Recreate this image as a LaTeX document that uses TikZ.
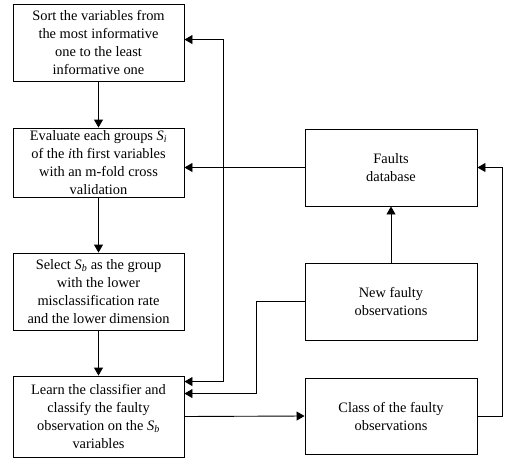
\documentclass[tikz,border=0pt]{standalone}
\usepackage{fontspec}
\setmainfont{Liberation Serif}
\usetikzlibrary{arrows.meta,calc}
\newcommand{\Sv}[1]{\textit{S}\textsubscript{\textit{#1}}}
\begin{document}
\begin{tikzpicture}[x=1pt,y=-1pt,
  box/.style={draw, line width=0.9pt, rectangle, align=center, inner sep=2pt,
    font=\fontsize{14.4}{18}\selectfont},
  lbox/.style={box, minimum width=171pt},
  rbox/.style={box, minimum width=172pt},
  arr/.style={line width=0.9pt, -{Triangle[length=8pt,width=9pt]}},
  darr/.style={line width=0.9pt, {Triangle[length=8pt,width=9pt]}-{Triangle[length=8pt,width=9pt]}}]
\useasboundingbox (0,0) rectangle (508,460);
\node[lbox, minimum height=77pt] (b1) at (98.5,42.5) {Sort the variables from\\the most informative\\one to the least\\informative one};
\node[lbox, minimum height=69pt] (b2) at (98.5,162.5) {Evaluate each groups \Sv{i}\\of the \textit{i}th first variables\\with an m-fold cross\\validation};
\node[lbox, minimum height=77pt] (b3) at (98.5,291.5) {Select \Sv{b} as the group\\with the lower\\misclassification rate\\and the lower dimension};
\node[lbox, minimum height=81pt] (b4) at (98.5,416.5) {Learn the classifier and\\classify the faulty\\observation on the \Sv{b}\\variables};
\node[rbox, minimum height=77pt] (fd) at (391,167.5) {Faults\\database};
\node[rbox, minimum height=77pt] (nf) at (391,301.5) {New faulty\\observations};
\node[rbox, minimum height=76pt] (cl) at (391,416) {Class of the faulty\\observations};
\coordinate (t1) at ($(b1.north east)+(0,36)$);
\coordinate (t4) at ($(b4.north east)+(0,6)$);
\coordinate (t4b) at ($(b4.north east)+(0,18)$);
\coordinate (fbx) at (223,0);
\coordinate (nfx) at (256,0);
\coordinate (clx) at (502,0);
\draw[arr] (b1) -- (b2);
\draw[arr] (b2) -- (b3);
\draw[arr] (b3) -- (b4);
\draw[arr] (fd.west) -- (fd.west -| b2.east);
\draw[darr] (t1) -- (t1 -| fbx) -- (t4 -| fbx) -- (t4);
\draw[arr] (nf.west) -- (nf.west -| nfx) -- (t4b -| nfx) -- (t4b);
\draw[arr] (b4.east) -- (cl.west);
\draw[arr] (cl.east) -- (cl.east -| clx) -- (fd.east -| clx) -- (fd.east);
\draw[arr] (nf.north) -- (fd.south);
\end{tikzpicture}
\end{document}
